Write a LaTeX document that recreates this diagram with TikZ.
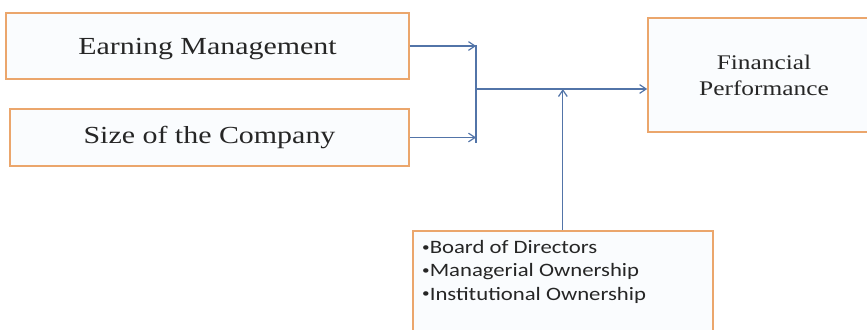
\documentclass[tikz,border=0pt]{standalone}
\usepackage{fontspec}
\usetikzlibrary{arrows.meta}
\setmainfont[FakeStretch=1.22]{Liberation Serif}
\newfontfamily\listfont[FakeStretch=1.2]{Carlito}
\definecolor{ink}{HTML}{262626}
\definecolor{edge}{HTML}{EBA66C}
\definecolor{boxfill}{HTML}{FAFCFE}
\definecolor{wire}{HTML}{5274A8}
\newcommand{\govitem}{\raisebox{1.6pt}{\fontsize{9.5}{9}\selectfont•}}

\begin{document}
\begin{tikzpicture}[
  x=0.75pt,
  y=-0.75pt,
  >={Straight Barb[length=1.7mm,width=2.3mm]},
  factor/.style={draw=edge, fill=boxfill, line width=1.3pt, text=ink,
                 font=\fontsize{18.4}{22}\selectfont},
  outcome/.style={draw=edge, fill=boxfill, line width=1.3pt, text=ink,
                  align=center, font=\fontsize{15.6}{19.5}\selectfont},
  govbox/.style={draw=edge, fill=boxfill, line width=1.3pt, text=ink,
                 inner xsep=7pt, inner ysep=7pt,
                 font=\listfont\fontsize{14.2}{17.5}\selectfont},
  flow/.style={->, line width=0.9pt, color=wire},
  link/.style={line width=0.9pt, color=wire},
]

\useasboundingbox (0,0) rectangle (867,329);

% independent variables
\node[factor, minimum width=302.25pt, minimum height=49.5pt, text height=17pt] (earn) at (207.5,46) {Earning Management};
\node[factor, minimum width=299.25pt, minimum height=42.75pt] (size) at (209.5,137.5) {Size of the Company};

% dependent variable, runs off the right edge
\node[outcome, minimum width=174pt, minimum height=85.5pt] (fin) at (764,75) {Financial\\Performance};

% moderating variables, runs off the bottom edge
\node[govbox, anchor=north west] (gov) at (412,230)
  {\parbox[t][84pt][t]{211pt}{\govitem Board of Directors\\
   \govitem Managerial Ownership\\
   \govitem Institutional Ownership}};

\coordinate (topin) at (476,46);
\coordinate (botin) at (476,137.5);
\coordinate (join) at (476,89);

\draw[flow] (earn.east) -- (topin);
\draw[flow] (size.east) -- (botin);
\draw[link] (topin) ++(0,-1) -- ([yshift=-4pt]botin);
\draw[flow] (join) -- (fin.west |- join);
\draw[flow] (gov.north) -- (gov.north |- join);

\end{tikzpicture}
\end{document}
